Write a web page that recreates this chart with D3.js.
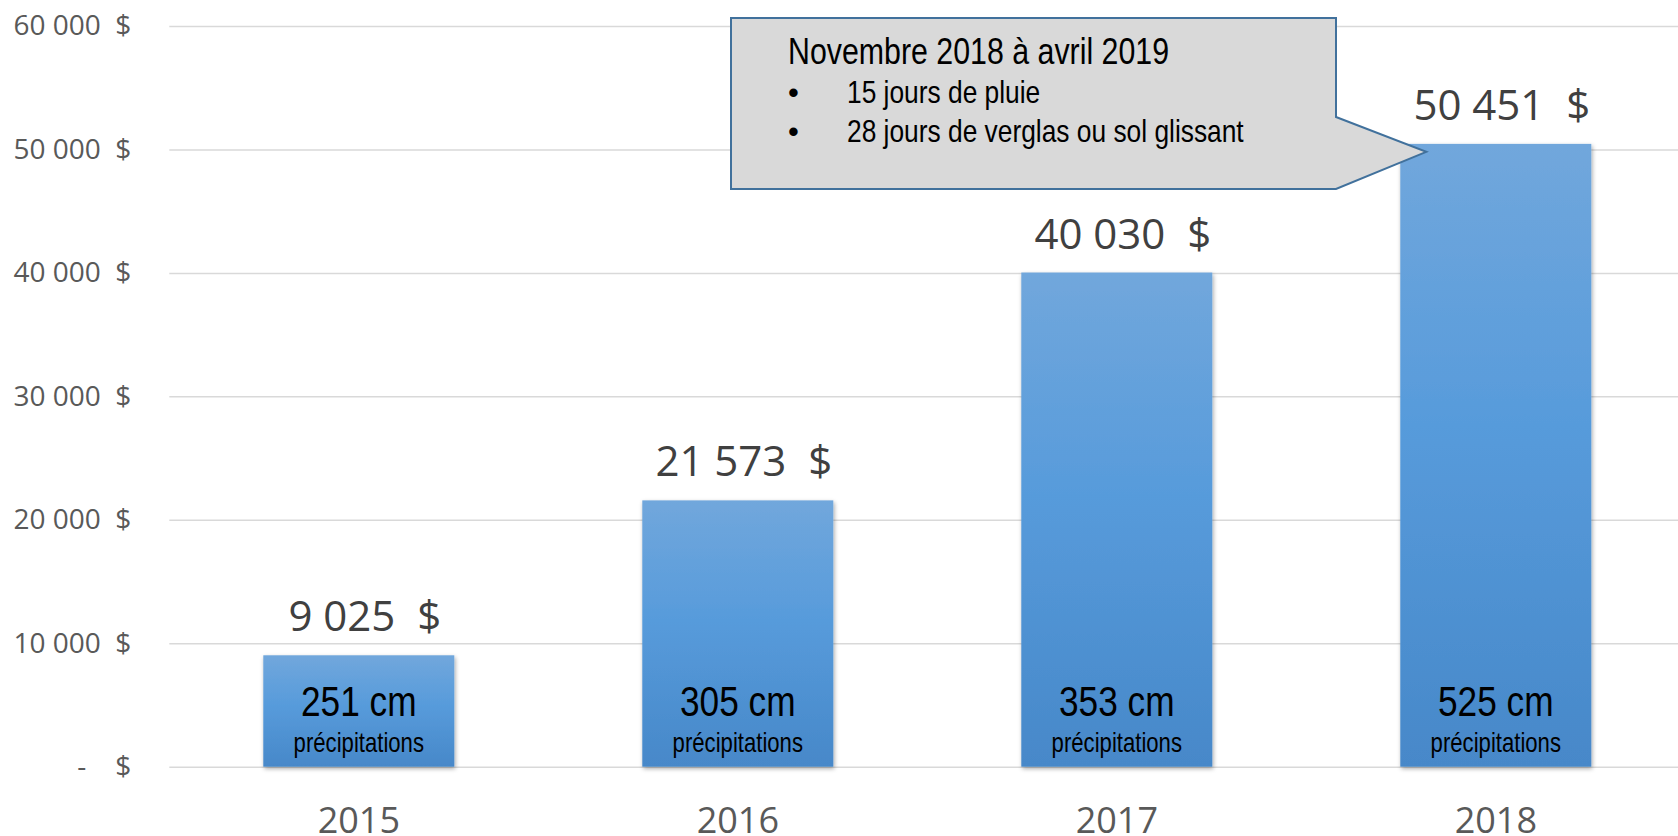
<!DOCTYPE html>
<html>
<head>
<meta charset="utf-8">
<script src="https://cdn.jsdelivr.net/npm/d3@7"></script>
<style>
  body { margin: 0; background: #fff; }
  svg { display: block; }
</style>
</head>
<body>
<div id="app"></div>
<script>
// données
const years = ["2015", "2016", "2017", "2018"]
const costs = [9025, 21573, 40030, 50451]
const precipCm = [251, 305, 353, 525]
const yTicks = [0, 10000, 20000, 30000, 40000, 50000, 60000]
const calloutTitle = "Novembre 2018 à avril 2019"
const calloutItems = ["15 jours de pluie", "28 jours de verglas ou sol glissant"]

const W = 1678, H = 836
// pas de police étroite installée : Liberation Sans compressée en largeur
const narrow = "'Liberation Sans', Arial, sans-serif"
const squeeze = 0.82
const sans = "'Open Sans', 'Noto Sans', sans-serif"

const fr = d3.formatLocale({ decimal: ",", thousands: "\u00a0", grouping: [3], currency: ["", ""] })
const num = fr.format(",")
const money = v => v === 0 ? "-\u00a0\u00a0\u00a0\u00a0$" : num(v) + "\u00a0\u00a0$"

const x = d3.scaleBand()
  .domain(years)
  .range([169.3, 1685.3])
  .paddingInner(0.496)
  .paddingOuter(0.248)

const y = d3.scaleLinear()
  .domain([0, 60000])
  .range([766.7, 26])

const svg = d3.select("#app").append("svg")
  .attr("width", W)
  .attr("height", H)

const defs = svg.append("defs")
const grad = defs.append("linearGradient")
  .attr("id", "barGrad")
  .attr("x1", 0).attr("y1", 0).attr("x2", 0).attr("y2", 1)
grad.append("stop").attr("offset", "0%").attr("stop-color", "#71a7dc")
grad.append("stop").attr("offset", "45%").attr("stop-color", "#579bdb")
grad.append("stop").attr("offset", "100%").attr("stop-color", "#4788c9")

defs.append("filter")
  .attr("id", "shadow")
  .attr("x", "-10%").attr("y", "-10%").attr("width", "130%").attr("height", "130%")
  .append("feDropShadow")
    .attr("dx", 1).attr("dy", 2).attr("stdDeviation", 2)
    .attr("flood-color", "#000").attr("flood-opacity", 0.35)

// axe y + quadrillage
const gy = svg.append("g")
    .attr("transform", "translate(169.3,0)")
    .call(d3.axisLeft(y)
      .tickValues(yTicks)
      .tickSize(-(W - 169.3))
      .tickPadding(38)
      .tickFormat(money))
gy.select(".domain").remove()
gy.selectAll(".tick line")
    .attr("stroke", "#d9d9d9")
    .attr("stroke-width", 1.5)
gy.selectAll(".tick text")
    .attr("fill", "#595959")
    .attr("font-family", sans)
    .attr("font-size", 28)

// axe x
const gx = svg.append("g")
    .attr("transform", `translate(0,${y(0)})`)
    .call(d3.axisBottom(x).tickSize(0))
gx.select(".domain").remove()
gx.selectAll(".tick text")
    .attr("dy", null)
    .attr("y", 66)
    .attr("fill", "#595959")
    .attr("font-family", sans)
    .attr("font-size", 36)

// barres
const rows = years.map((yr, i) => ({ yr, cost: costs[i], cm: precipCm[i] }))

svg.append("g")
  .selectAll("rect")
  .data(rows)
  .join("rect")
    .attr("x", d => x(d.yr))
    .attr("y", d => y(d.cost))
    .attr("width", x.bandwidth())
    .attr("height", d => y(0) - y(d.cost))
    .attr("fill", "url(#barGrad)")
    .attr("filter", "url(#shadow)")

// étiquettes de valeur
svg.append("g")
  .selectAll("text")
  .data(rows)
  .join("text")
    .attr("x", d => x(d.yr) + x.bandwidth() / 2 + 6)
    .attr("y", d => y(d.cost) - 24)
    .attr("text-anchor", "middle")
    .attr("font-family", sans)
    .attr("font-size", 42)
    .attr("fill", "#404040")
    .text(d => money(d.cost))

// précipitations dans les barres
const inner = svg.append("g")
  .selectAll("g")
  .data(rows)
  .join("g")
    .attr("transform", d => `translate(${x(d.yr) + x.bandwidth() / 2},${y(0)}) scale(${squeeze},1)`)
    .attr("font-family", narrow)
    .attr("text-anchor", "middle")
    .attr("fill", "#000")
inner.append("text")
    .attr("y", -51)
    .attr("font-size", 43)
    .text(d => d.cm + " cm")
inner.append("text")
    .attr("y", -15)
    .attr("font-size", 27)
    .text("précipitations")

// bulle d'annotation
const bx0 = 731, bx1 = 1336, by0 = 18, by1 = 189
const tipX = x("2018") + 26, tipY = y(costs[3]) + 8
const callout = svg.append("g")
callout.append("path")
    .attr("d", `M${bx0},${by0}H${bx1}V${by1 - 72}L${tipX},${tipY}L${bx1},${by1}H${bx0}Z`)
    .attr("fill", "#d9d9d9")
    .attr("stroke", "#41719c")
    .attr("stroke-width", 2)
    .attr("stroke-linejoin", "miter")
callout.append("text")
    .attr("transform", `translate(788,64) scale(0.82,1)`)
    .attr("font-family", narrow)
    .attr("font-size", 37)
    .attr("fill", "#000")
    .text(calloutTitle)
const items = callout.selectAll("g.item")
  .data(calloutItems)
  .join("g")
    .attr("class", "item")
    .attr("transform", (d, i) => `translate(0,${103 + i * 39})`)
    .attr("font-family", narrow)
    .attr("font-size", 31)
    .attr("fill", "#000")
items.append("text").attr("x", 788).text("•")
items.append("text")
    .attr("transform", "translate(847,0) scale(0.85,1)")
    .text(d => d)
</script>
</body>
</html>
